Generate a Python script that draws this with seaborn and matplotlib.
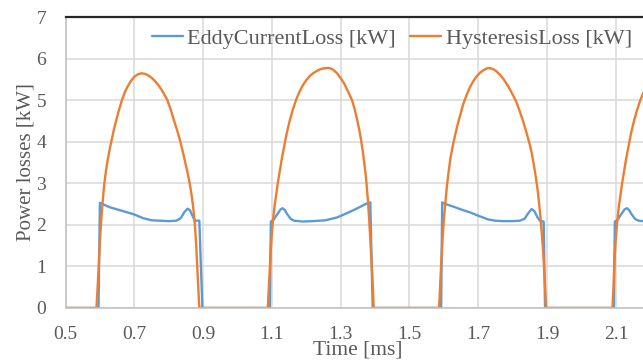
import numpy as np
import pandas as pd
import matplotlib
matplotlib.use("Agg")
import matplotlib.pyplot as plt
import seaborn as sns

# ---- data ----
eddy_t = [0.50, 0.596, 0.600, 0.61, 0.63, 0.655, 0.68, 0.70, 0.726, 0.75, 0.775, 0.80, 0.822, 0.835, 0.845, 0.855, 0.862, 0.87, 0.876, 0.889, 0.898,
          1.094, 1.097, 1.105, 1.115, 1.125, 1.131, 1.137, 1.145, 1.155, 1.165, 1.19, 1.22, 1.256, 1.29, 1.315, 1.344, 1.372, 1.386, 1.393,
          1.592, 1.595, 1.605, 1.627, 1.65, 1.676, 1.70, 1.729, 1.75, 1.772, 1.80, 1.821, 1.835, 1.845, 1.855, 1.863, 1.872, 1.879, 1.890, 1.894,
          2.094, 2.097, 2.105, 2.115, 2.125, 2.132, 2.138, 2.146, 2.156, 2.166, 2.19]
eddy_v = [0, 0, 2.53, 2.49, 2.42, 2.36, 2.30, 2.25, 2.16, 2.11, 2.10, 2.09, 2.10, 2.16, 2.30, 2.39, 2.35, 2.20, 2.10, 2.10, 0,
          0, 2.08, 2.12, 2.25, 2.37, 2.40, 2.36, 2.25, 2.14, 2.10, 2.08, 2.09, 2.11, 2.18, 2.27, 2.38, 2.50, 2.54, 0,
          0, 2.54, 2.50, 2.44, 2.37, 2.30, 2.22, 2.13, 2.10, 2.09, 2.09, 2.10, 2.15, 2.28, 2.38, 2.33, 2.18, 2.10, 2.08, 0,
          0, 2.08, 2.12, 2.25, 2.37, 2.40, 2.36, 2.25, 2.14, 2.10, 2.08]

hyst_t = [0.50,
          0.590, 0.594, 0.597, 0.600, 0.603, 0.606, 0.609, 0.613, 0.618, 0.623, 0.628, 0.633, 0.640, 0.647, 0.655, 0.664,
          0.672, 0.680, 0.690, 0.700, 0.710, 0.720, 0.730, 0.740, 0.750, 0.760, 0.770, 0.780, 0.789, 0.796,
          0.806, 0.815, 0.825, 0.834, 0.841, 0.848, 0.855, 0.861, 0.866, 0.870, 0.874, 0.877, 0.880, 0.883, 0.886, 0.889,
          1.088, 1.091, 1.094, 1.097, 1.100, 1.103, 1.107, 1.112, 1.117, 1.123, 1.129, 1.136, 1.143, 1.151, 1.160, 1.170,
          1.180, 1.190, 1.200, 1.210, 1.220, 1.230, 1.240, 1.250, 1.263, 1.272, 1.280, 1.290, 1.300, 1.310, 1.320, 1.333,
          1.340, 1.347, 1.354, 1.360, 1.365, 1.369, 1.372, 1.375, 1.379, 1.383, 1.387, 1.391, 1.394, 1.396,
          1.586, 1.589, 1.592, 1.595, 1.598, 1.601, 1.605, 1.609, 1.614, 1.619, 1.625, 1.631, 1.638, 1.646, 1.656,
          1.665, 1.675, 1.685, 1.695, 1.705, 1.715, 1.725, 1.733, 1.742, 1.752, 1.762, 1.772, 1.782, 1.792, 1.802, 1.811,
          1.821, 1.831, 1.840, 1.849, 1.856, 1.862, 1.868, 1.873, 1.877, 1.881, 1.885, 1.889, 1.893, 1.897,
          2.090, 2.093, 2.095, 2.098, 2.101, 2.104, 2.108, 2.113, 2.118, 2.124, 2.130, 2.137, 2.144, 2.152, 2.161, 2.171,
          2.181, 2.191]
hyst_v = [0,
          0, 0.6, 1.1, 1.6, 2.0, 2.35, 2.65, 3.0, 3.32, 3.58, 3.8, 4.0, 4.27, 4.5, 4.75, 5.0,
          5.18, 5.32, 5.46, 5.56, 5.62, 5.645, 5.635, 5.6, 5.54, 5.46, 5.36, 5.24, 5.11, 5.0,
          4.77, 4.52, 4.26, 4.0, 3.76, 3.5, 3.25, 3.0, 2.75, 2.5, 2.2, 1.9, 1.5, 1.0, 0.5, 0,
          0, 0.5, 1.0, 1.45, 1.8, 2.1, 2.4, 2.7, 3.0, 3.3, 3.6, 3.9, 4.2, 4.48, 4.75, 5.0,
          5.2, 5.36, 5.48, 5.58, 5.65, 5.7, 5.74, 5.765, 5.775, 5.76, 5.72, 5.64, 5.53, 5.4, 5.23, 5.0,
          4.8, 4.56, 4.29, 4.0, 3.72, 3.45, 3.25, 3.0, 2.6, 2.1, 1.5, 0.9, 0.4, 0,
          0, 0.55, 1.05, 1.5, 1.9, 2.25, 2.6, 2.95, 3.3, 3.6, 3.87, 4.1, 4.35, 4.6, 4.9,
          5.1, 5.3, 5.45, 5.57, 5.66, 5.72, 5.765, 5.77, 5.75, 5.7, 5.62, 5.52, 5.4, 5.26, 5.1, 4.95,
          4.72, 4.47, 4.22, 3.95, 3.7, 3.42, 3.1, 2.8, 2.5, 2.15, 1.75, 1.3, 0.7, 0,
          0, 0.5, 1.0, 1.45, 1.8, 2.1, 2.4, 2.7, 3.0, 3.3, 3.6, 3.9, 4.2, 4.48, 4.75, 5.0,
          5.2, 5.36]

series_names = ["EddyCurrentLoss [kW]", "HysteresisLoss [kW]"]
series_colors = ["#5B9BD5", "#ED7D31"]
x_ticks = [0.5, 0.7, 0.9, 1.1, 1.3, 1.5, 1.7, 1.9, 2.1]
x_tick_labels = ["0.5", "0.7", "0.9", "1.1", "1.3", "1.5", "1.7", "1.9", "2.1"]
y_ticks = [0, 1, 2, 3, 4, 5, 6, 7]

df = pd.concat([
    pd.DataFrame({"t": eddy_t, "v": eddy_v, "s": series_names[0]}),
    pd.DataFrame({"t": hyst_t, "v": hyst_v, "s": series_names[1]}),
], ignore_index=True)

sns.set_theme(style="white")
plt.rcParams["font.family"] = ["Liberation Serif", "DejaVu Serif"]
txt = "#595959"

fig = plt.figure(figsize=(6.43, 3.61), dpi=100)
ax = fig.add_axes([65.5 / 643, 1 - 308 / 361, (643 - 65.5) / 643, 291 / 361])

sns.lineplot(data=df, x="t", y="v", hue="s", palette=dict(zip(series_names, series_colors)),
             estimator=None, sort=False, linewidth=1.7, ax=ax, legend=True)
for ln in ax.get_lines():
    ln.set_solid_joinstyle("round")

ax.set_xlim(0.5, 0.5 + 577.5 / 344)
ax.set_ylim(0, 7)
ax.set_xticks(x_ticks)
ax.set_xticklabels(x_tick_labels)
ax.set_yticks(y_ticks)
ax.grid(True, color="#D9D9D9", linewidth=1.1)
ax.set_axisbelow(True)
ax.tick_params(axis="both", length=0, labelsize=14, colors=txt)
ax.tick_params(axis="x", pad=13)
ax.tick_params(axis="y", pad=14)

for side in ["left", "bottom"]:
    ax.spines[side].set_color("#BFBFBF")
    ax.spines[side].set_linewidth(1.1)
ax.spines["right"].set_visible(False)
ax.spines["top"].set_color("#262626")
ax.spines["top"].set_linewidth(1.6)

ax.set_xlabel("Time [ms]", fontsize=15.5, color=txt)
ax.set_ylabel("Power losses [kW]", fontsize=15, color=txt)
ax.xaxis.set_label_coords(0.506, -0.112)
ax.yaxis.set_label_coords(-0.052, 0.5)

leg = ax.legend(loc="center", bbox_to_anchor=(0.565, 0.925), ncol=2, frameon=False,
                fontsize=16, handlelength=1.4, handletextpad=0.2, columnspacing=0.65,
                borderaxespad=0, borderpad=0)
for t in leg.get_texts():
    t.set_color(txt)
for h in leg.get_lines():
    h.set_linewidth(1.7)

fig.savefig("out.png", dpi=100)
